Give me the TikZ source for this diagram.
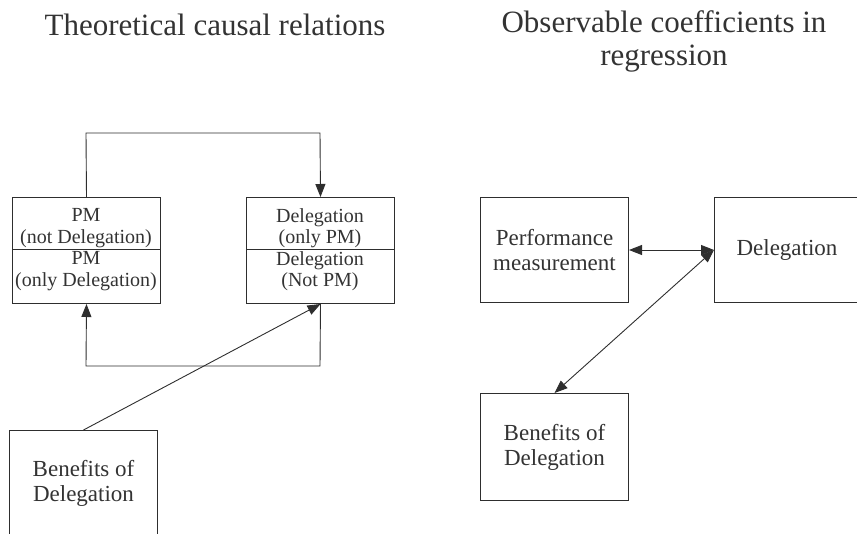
\documentclass[tikz,border=0pt]{standalone}
\usepackage{fontspec}
\setmainfont{Liberation Serif}
\usetikzlibrary{arrows.meta}
\definecolor{ink}{HTML}{333333}
\definecolor{edge}{HTML}{2E2E2E}
\begin{document}
\begin{tikzpicture}[x=1pt,y=-1pt,
  box/.style={draw=edge,line width=1pt,inner sep=0pt,align=center,text=ink,anchor=north west},
  half/.style={box,minimum width=148pt},
  lbl/.style={inner sep=0pt,align=center,text=ink,font=\fontsize{20}{21.5}\selectfont},
  bigbox/.style={box,minimum width=148pt,font=\fontsize{23}{25}\selectfont},
  conn/.style={draw=edge,line width=0.9pt},
  tip/.style={-{Triangle[length=13pt,width=10pt]}},
  dtip/.style={{Triangle[length=13pt,width=10pt]}-{Triangle[length=13pt,width=10pt]}},
  title/.style={text=ink,align=center,font=\fontsize{31}{33}\selectfont}]
\useasboundingbox (0,0) rectangle (857,533);
\clip (0,0) rectangle (857,533);
% titles
\node[title] (t1) at (215,25) {Theoretical causal relations};
\node[title] (t2) at (664,41) {Observable coefficients in\\regression};
% left split boxes
\node[half,minimum height=52pt] (pmA) at (12,197) {};
\node[half,minimum height=54pt] (pmB) at (12,249) {};
\node[half,minimum height=52pt] (dA) at (246,197) {};
\node[half,minimum height=54pt] (dB) at (246,249) {};
\node[lbl] (pmAt) at (86,228) {PM\\(not Delegation)};
\node[lbl] (pmBt) at (86,271) {PM\\(only Delegation)};
\node[lbl] (dAt) at (320,228) {Delegation\\(only PM)};
\node[lbl] (dBt) at (320,271) {Delegation\\(Not PM)};
\node[bigbox,minimum height=105pt] (benL) at (9,430) {Benefits of\\Delegation};
% loop connectors
\coordinate (c1) at (86,133);
\coordinate (c2) at (320,133);
\coordinate (c3) at (320,366);
\coordinate (c4) at (86,366);
\draw[conn,tip] (pmA.north) -- (c1) -- (c2) -- (dA.north);
\draw[conn,tip] (dB.south) -- (c3) -- (c4) -- (pmB.south);
\draw[conn,tip] (benL.north) -- (dB.south);
% right side
\node[bigbox,minimum height=105pt] (pm) at (480,197) {Performance\\measurement};
\node[bigbox,minimum height=105pt,minimum width=145pt] (del) at (714,197) {Delegation};
\node[bigbox,minimum height=107pt] (benR) at (480,393) {Benefits of\\Delegation};
\draw[conn,dtip] (pm.east) -- (del.west);
\draw[conn,dtip] (del.west) -- (benR.north);
\end{tikzpicture}
\end{document}
